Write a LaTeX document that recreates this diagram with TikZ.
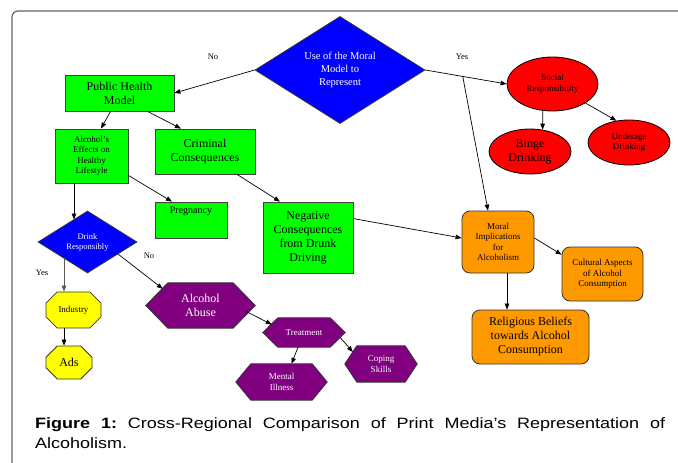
\documentclass[tikz,border=0pt]{standalone}
\usepackage{fontspec}
\setmainfont{Liberation Serif}
\newfontfamily\capfont[FakeStretch=1.2]{Liberation Sans}
\usetikzlibrary{shapes.geometric,shapes.misc,arrows.meta,calc,backgrounds}
\definecolor{cgreen}{RGB}{0,255,0}
\definecolor{cblue}{RGB}{0,0,255}
\definecolor{cred}{RGB}{255,0,0}
\definecolor{cyellow}{RGB}{255,255,0}
\definecolor{cpurple}{RGB}{128,0,128}
\definecolor{corange}{RGB}{255,153,0}
\tikzset{
  bigtxt/.style={font=\fontsize{12}{14}\selectfont},
  smalltxt/.style={font=\fontsize{9}{10.5}\selectfont},
  gbox/.style={rectangle, draw=black!75, fill=cgreen, line width=0.8pt, inner sep=0pt, align=center},
  obox/.style={rectangle, rounded corners=8pt, draw=black!80, fill=corange, line width=0.8pt, inner sep=0pt, align=center},
  rell/.style={ellipse, draw=black, fill=cred, line width=0.8pt, inner sep=0pt, align=center},
  bdia/.style={diamond, draw=black!80, fill=cblue, line width=0.8pt, inner sep=0pt, text=white, align=center},
  oct/.style={chamfered rectangle, chamfered rectangle xsep=7pt, chamfered rectangle ysep=7pt, draw=black!80, fill=cyellow, line width=0.8pt, inner sep=0pt, align=center},
  hexn/.style={rectangle, inner sep=0pt, text=white, align=center},
  hexshape/.style={fill=cpurple, draw=black!80, line width=0.8pt},
  conn/.style={-{Triangle[length=6pt,width=4.5pt]}, line width=0.7pt},
  lbl/.style={font=\fontsize{8.5}{9}\selectfont, inner sep=0pt}
}
\begin{document}
\begin{tikzpicture}[x=1pt,y=-1pt]
\path[use as bounding box] (0,0) rectangle (678,463);
% frame
\draw[black!60, line width=1.2pt, rounded corners=6pt] (12,470) -- (12,11) -- (690,11);

% nodes
\node[bdia, minimum width=170pt, minimum height=84pt, font=\fontsize{10.5}{13}\selectfont] (bigd) at (340,70) {Use of the Moral\\Model to\\Represent};
\node[gbox, bigtxt, minimum width=109pt, minimum height=36pt] (ph) at (119.5,93) {Public Health\\Model};
\node[gbox, smalltxt, minimum width=73pt, minimum height=54pt] (ae) at (91.5,156) {Alcohol’s\\Effects on\\Healthy\\Lifestyle};
\node[gbox, bigtxt, minimum width=100pt, minimum height=45pt] (cc) at (205,151.5) {Criminal\\Consequences};
\node[gbox, font=\fontsize{10}{12}\selectfont, minimum width=72pt, minimum height=36pt, inner ysep=4pt, text height=7pt, text depth=21pt] (preg) at (191,220) {Pregnancy};
\node[gbox, bigtxt, minimum width=90pt, minimum height=71pt] (neg) at (308,237.5) {Negative\\Consequences\\from Drunk\\Driving};
\node[rell, smalltxt, minimum width=91pt, minimum height=54pt] (social) at (552.5,84) {Social\\Responsibility};
\node[rell, bigtxt, minimum width=82pt, minimum height=45pt] (binge) at (530,151.5) {Binge\\Drinking};
\node[rell, smalltxt, minimum width=82pt, minimum height=45pt] (under) at (629,142.5) {Underage\\Drinking};
\node[bdia, font=\fontsize{8.5}{10}\selectfont, minimum width=99pt, minimum height=62pt] (dr) at (87.5,242) {Drink\\Responsibly};
\node[oct, smalltxt, minimum width=55pt, minimum height=36pt] (ind) at (73.5,310) {Industry};
\node[oct, bigtxt, minimum width=46pt, minimum height=33pt] (ads) at (69,362.5) {Ads};
\node[hexn, bigtxt, minimum width=109pt, minimum height=45pt] (abuse) at (200.5,305.5) {Alcohol\\Abuse};
\node[hexn, smalltxt, minimum width=82pt, minimum height=29pt] (treat) at (304,332.5) {Treatment};
\node[hexn, smalltxt, minimum width=91pt, minimum height=36pt] (mental) at (281.5,382) {Mental\\Illness};
\node[hexn, smalltxt, minimum width=72pt, minimum height=36pt] (coping) at (381,364) {Coping\\Skills};
\node[obox, smalltxt, minimum width=72pt, minimum height=62pt] (moral) at (498,242) {Moral\\Implications\\for\\Alcoholism};
\node[obox, smalltxt, minimum width=81pt, minimum height=54pt] (cult) at (602.5,274) {Cultural Aspects\\of Alcohol\\Consumption};
\node[obox, bigtxt, minimum width=117pt, minimum height=54pt] (relig) at (530.5,337) {Religious Beliefs\\towards Alcohol\\Consumption};

% hexagon outlines
\begin{scope}[on background layer]
\foreach \n/\d in {abuse/22, treat/15, mental/15, coping/12} {
  \filldraw[hexshape] (\n.west) -- ($(\n.north west)+(\d,0)$) -- ($(\n.north east)+(-\d,0)$) -- (\n.east) -- ($(\n.south east)+(-\d,0)$) -- ($(\n.south west)+(\d,0)$) -- cycle;
}
\end{scope}

% labels
\node[lbl] (no1) at (213,57) {No};
\node[lbl] (yes1) at (462,57) {Yes};
\node[lbl] (yes2) at (42,273) {Yes};
\node[lbl] (no2) at (149,256) {No};

% connectors
\draw[conn] (bigd.west) -- (ph.east);
\draw[conn] (bigd.east) -- (social.west);
\coordinate (yb) at ($(bigd.east)!0.46!(social.west)$);
\draw[conn] (yb) -- ($(moral.north)+(-10,0)$);
\draw[conn] ($(ph.south)+(-9,0)$) -- ($(ae.north)+(9.5,0)$);
\draw[conn] ($(ph.south)+(28,0)$) -- ($(cc.north)+(-24,0)$);
\draw[conn] ($(ae.south east)+(0,-8)$) -- ($(preg.north)+(-19,0)$);
\draw[conn] ($(cc.south)+(32,0)$) -- ($(neg.north)+(-28,0)$);
\draw[conn] ($(neg.north east)+(0,17)$) -- ($(moral.west)+(0,-4)$);
\draw[conn] (social.250) -- (binge.60);
\draw[conn] (social.-30) -- (under.120);
\draw[conn] ($(ae.south)+(-17.5,0)$) -- ($(dr.center)+(-13.5,-22.5)$);
\draw[conn, black!65] ($(dr.center)+(-23.5,16.3)$) -- ($(ind.north)+(-9.5,0)$);
\draw[conn] ($(ind.south)+(-9.5,0)$) -- ($(ads.north)+(-5,0)$);
\draw[conn] ($(dr.center)+(30.5,12)$) -- ($(abuse.north west)+(17,6)$);
\draw[conn] ($(abuse.east)+(-9,6)$) -- ($(treat.west)+(9,-8)$);
\draw[conn] ($(treat.south)+(-6,0)$) -- ($(mental.north)+(10,0)$);
\draw[conn] ($(treat.east)+(-5,5)$) -- ($(coping.west)+(8,-12)$);
\draw[conn] ($(moral.east)+(0,-4)$) -- ($(cult.north west)+(0,8)$);
\draw[conn] ($(moral.south)+(9,0)$) -- ($(relig.north)+(-23.5,0)$);

% caption
\node[anchor=base west, inner sep=0pt, align=left, font=\capfont\fontsize{15}{20}\selectfont\frenchspacing] (cap) at (35,448)
  {\makebox[630pt][s]{\textbf{Figure 1:} Cross-Regional Comparison of Print Media’s Representation of}\\Alcoholism.};
\end{tikzpicture}
\end{document}
